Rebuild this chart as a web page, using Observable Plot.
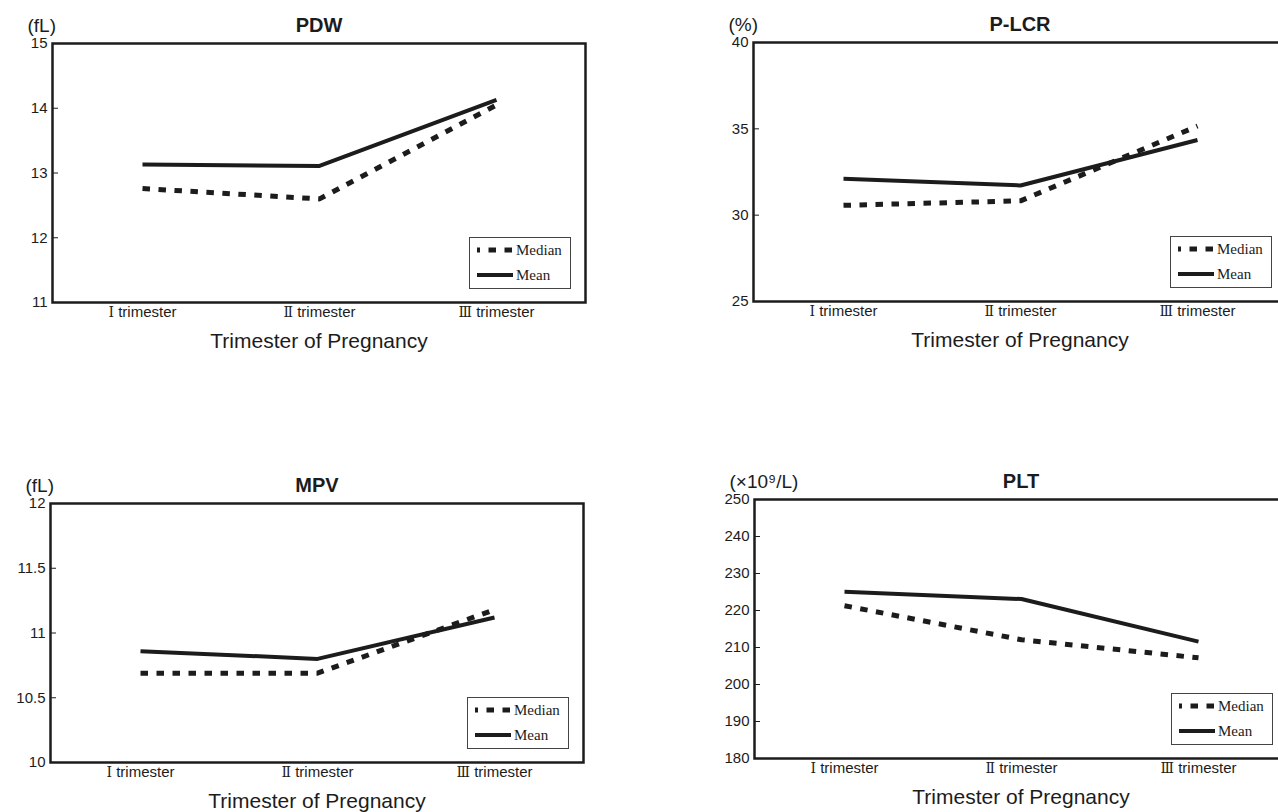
<!DOCTYPE html>
<html>
<head>
<meta charset="utf-8">
<script src="https://cdn.jsdelivr.net/npm/d3@7"></script>
<script src="https://cdn.jsdelivr.net/npm/@observablehq/plot@0.6"></script>
<style>
  html, body { margin: 0; padding: 0; background: #fff; }
  body { width: 1278px; height: 812px; position: relative; overflow: hidden; }
  .panel { position: absolute; }
  .panel svg { max-width: none !important; }
  .legend { position: absolute; }
</style>
</head>
<body>
<script>
// ---- data ----
const trimesters = ["Ⅰ trimester", "Ⅱ trimester", "Ⅲ trimester"];

const pdwMean   = [13.13, 13.11, 14.13];
const pdwMedian = [12.76, 12.60, 14.05];
const pdwTicks  = [11, 12, 13, 14, 15];

const plcrMean   = [32.11, 31.72, 34.35];
const plcrMedian = [30.57, 30.83, 35.16];
const plcrTicks  = [25, 30, 35, 40];

const mpvMean   = [10.86, 10.80, 11.12];
const mpvMedian = [10.69, 10.69, 11.18];
const mpvTicks  = [10, 10.5, 11, 11.5, 12];

const pltMean   = [225.1, 223.1, 211.6];
const pltMedian = [221.3, 212.1, 207.2];
const pltTicks  = [180, 190, 200, 210, 220, 230, 240, 250];

const titles = ["PDW", "P-LCR", "MPV", "PLT"];
const units  = ["(fL)", "(%)", "(fL)", "(×10⁹/L)"];
const xTitle = "Trimester of Pregnancy";
const seriesNames = ["Median", "Mean"];

// ---- layout ----
const FW = 533, FH = 259;
const ML = 52, MR = 12, MT = 43, MB = 58;
const INK = "#1c1c1c";
const SANS = "'Liberation Sans', Arial, sans-serif";
const NUMERAL = "'DejaVu Serif', 'Liberation Serif', serif";
const SERIF = "'Liberation Serif', 'Times New Roman', serif";
const DASH = "7.5,8.5";

const panels = [
  {title: titles[0], unit: units[0], mean: pdwMean,  median: pdwMedian,  ticks: pdwTicks,  left: 0,   top: 0},
  {title: titles[1], unit: units[1], mean: plcrMean, median: plcrMedian, ticks: plcrTicks, left: 701, top: -1},
  {title: titles[2], unit: units[2], mean: mpvMean,  median: mpvMedian,  ticks: mpvTicks,  left: -2,  top: 460},
  {title: titles[3], unit: units[3], mean: pltMean,  median: pltMedian,  ticks: pltTicks,  left: 702, top: 456}
];

function makePanel(p) {
  const meanRows = trimesters.map((t, i) => ({t, v: p.mean[i]}));
  const medRows  = trimesters.map((t, i) => ({t, v: p.median[i]}));
  const yDomain = [p.ticks[0], p.ticks[p.ticks.length - 1]];
  const W = ML + FW + MR;
  const chart = Plot.plot({
    width: W,
    height: MT + FH + MB,
    marginLeft: ML, marginRight: MR, marginTop: MT, marginBottom: MB,
    style: {fontFamily: SANS, color: INK, background: "transparent", overflow: "visible"},
    x: {type: "point", domain: trimesters, padding: 0.5, axis: null},
    y: {domain: yDomain, axis: null},
    marks: [
      Plot.tickY(p.ticks, {y: d => d, insetRight: FW - 6, stroke: INK, strokeWidth: 1}),
      Plot.axisY({ticks: p.ticks, tickSize: 0, tickPadding: 5, fontSize: 15, label: null, tickFormat: d => String(d)}),
      Plot.axisX({tickSize: 0, tickPadding: 4, fontSize: 15, label: null}),
      Plot.line(medRows, {x: "t", y: "v", stroke: INK, strokeWidth: 5, strokeDasharray: DASH, strokeLinecap: "butt"}),
      Plot.line(meanRows, {x: "t", y: "v", stroke: INK, strokeWidth: 4, strokeLinecap: "butt"}),
      Plot.frame({stroke: INK, strokeWidth: 2.5}),
      Plot.text([p.title], {text: d => d, frameAnchor: "top", lineAnchor: "middle", dy: -18, fontSize: 20, fontWeight: "bold", fill: INK}),
      Plot.text([p.unit], {text: d => d, frameAnchor: "top-left", lineAnchor: "middle", textAnchor: "start", dx: -25, dy: -18, fontSize: 19, fill: INK}),
      Plot.text([xTitle], {text: d => d, frameAnchor: "bottom", lineAnchor: "middle", dy: 39, fontSize: 21, fill: INK})
    ]
  });
  chart.style.maxWidth = "none";
  // render the Roman numeral of each x tick label in a serif glyph, as in the source figure
  d3.select(chart).selectAll('g[aria-label="x-axis tick label"] text').each(function () {
    const s = this.textContent;
    const sel = d3.select(this);
    sel.text(null);
    sel.append("tspan").attr("font-family", NUMERAL).attr("font-size", 14).text(s.slice(0, 1));
    sel.append("tspan").text(s.slice(1));
  });
  const wrap = document.createElement("div");
  wrap.className = "panel";
  wrap.style.left = p.left + "px";
  wrap.style.top = p.top + "px";
  wrap.style.width = W + "px";
  wrap.appendChild(chart);
  document.body.appendChild(wrap);

  // legend box inside the frame, bottom-right
  const LW = 102, LH = 52;
  const lg = document.createElement("div");
  lg.className = "legend";
  lg.style.left = (p.left + ML + FW - 14 - LW) + "px";
  lg.style.top = (p.top + MT + FH - 13 - LH) + "px";
  const svg = d3.create("svg").attr("width", LW).attr("height", LH);
  svg.append("rect").attr("x", 0.5).attr("y", 0.5).attr("width", LW - 1).attr("height", LH - 1)
     .attr("fill", "#fff").attr("stroke", "#444").attr("stroke-width", 1);
  const rows = [
    {name: seriesNames[0], w: 5, dash: DASH, offset: 4.5},
    {name: seriesNames[1], w: 4, dash: null, offset: 0}
  ];
  rows.forEach((r, i) => {
    const y = 13 + i * 25;
    const ln = svg.append("line").attr("x1", 8).attr("x2", 44).attr("y1", y).attr("y2", y)
      .attr("stroke", INK).attr("stroke-width", r.w);
    if (r.dash) ln.attr("stroke-dasharray", r.dash).attr("stroke-dashoffset", r.offset);
    svg.append("text").attr("x", 47).attr("y", y).attr("dy", "0.35em")
      .attr("font-family", SERIF).attr("font-size", 15).attr("fill", INK).text(r.name);
  });
  lg.appendChild(svg.node());
  document.body.appendChild(lg);
}

panels.forEach(makePanel);
</script>
</body>
</html>
